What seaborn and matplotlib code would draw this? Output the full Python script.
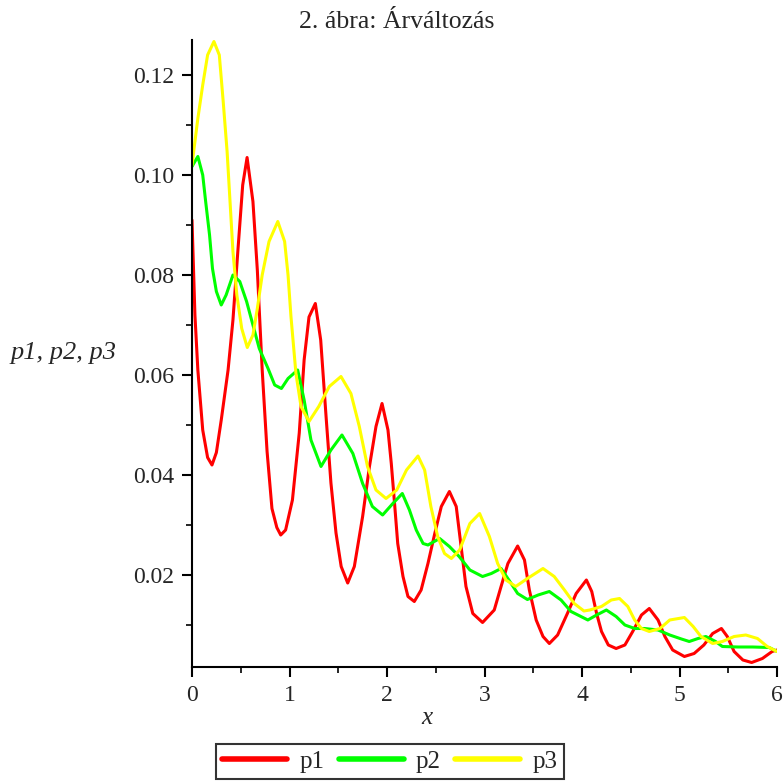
import matplotlib
matplotlib.use("Agg")
import matplotlib.pyplot as plt
from matplotlib.ticker import MultipleLocator, FixedLocator
import seaborn as sns
import pandas as pd

# ---- data ----
x_p1 = [0.00, 0.03, 0.06, 0.11, 0.16, 0.205, 0.25, 0.30, 0.37, 0.42, 0.47, 0.52, 0.565, 0.625, 0.67,
        0.72, 0.77, 0.82, 0.87, 0.91, 0.96, 1.03, 1.10, 1.15, 1.20, 1.265, 1.32, 1.375, 1.425, 1.477,
        1.53, 1.597, 1.665, 1.75, 1.82, 1.887, 1.949, 2.01, 2.044, 2.08, 2.11, 2.164, 2.215, 2.28,
        2.35, 2.42, 2.49, 2.557, 2.64, 2.71, 2.76, 2.81, 2.88, 2.98, 3.10, 3.17, 3.24, 3.34, 3.41,
        3.46, 3.53, 3.60, 3.665, 3.75, 3.85, 3.94, 4.045, 4.10, 4.15, 4.20, 4.27, 4.35, 4.44, 4.52,
        4.61, 4.69, 4.78, 4.85, 4.93, 5.05, 5.15, 5.25, 5.34, 5.43, 5.49, 5.56, 5.65, 5.74, 5.85,
        5.95, 6.00]
y_p1 = [0.091, 0.072, 0.061, 0.049, 0.0435, 0.042, 0.0445, 0.051, 0.061, 0.071, 0.0847, 0.098, 0.1035,
        0.0947, 0.081, 0.061, 0.0447, 0.0333, 0.0295, 0.028, 0.029, 0.035, 0.0484, 0.063, 0.0716,
        0.0743, 0.067, 0.0517, 0.0384, 0.0284, 0.0217, 0.0184, 0.0217, 0.0317, 0.0417, 0.0497,
        0.0543, 0.049, 0.0423, 0.0337, 0.0263, 0.0197, 0.0157, 0.0147, 0.017, 0.0223, 0.0283,
        0.0337, 0.0367, 0.0337, 0.0257, 0.0177, 0.0123, 0.0105, 0.013, 0.0177, 0.0223, 0.0258,
        0.023, 0.017, 0.011, 0.0077, 0.0063, 0.008, 0.0123, 0.0163, 0.019, 0.0167, 0.0123, 0.0087,
        0.006, 0.0053, 0.006, 0.0087, 0.012, 0.0133, 0.011, 0.0077, 0.005, 0.0037, 0.0043, 0.006,
        0.0083, 0.0093, 0.0077, 0.0047, 0.003, 0.0025, 0.0033, 0.0047, 0.005]

x_p2 = [0.00, 0.06, 0.11, 0.14, 0.18, 0.21, 0.25, 0.30, 0.35, 0.42, 0.49, 0.56, 0.625, 0.69, 0.78,
        0.848, 0.917, 0.985, 1.084, 1.15, 1.22, 1.323, 1.425, 1.538, 1.65, 1.75, 1.85, 1.955, 2.06,
        2.157, 2.23, 2.30, 2.37, 2.42, 2.54, 2.64, 2.74, 2.85, 2.98, 3.07, 3.17, 3.25, 3.34, 3.44,
        3.55, 3.665, 3.785, 3.887, 4.06, 4.15, 4.25, 4.35, 4.44, 4.54, 4.64, 4.78, 4.90, 5.02, 5.10,
        5.19, 5.27, 5.37, 5.44, 5.60, 5.75, 5.92, 6.00]
y_p2 = [0.1017, 0.1037, 0.100, 0.0947, 0.088, 0.0813, 0.0767, 0.074, 0.076, 0.080, 0.0787, 0.0747,
        0.070, 0.0653, 0.0613, 0.058, 0.0573, 0.0593, 0.061, 0.055, 0.047, 0.0417, 0.045, 0.048,
        0.0443, 0.0383, 0.0337, 0.032, 0.0343, 0.0363, 0.033, 0.029, 0.0263, 0.026, 0.0273, 0.0257,
        0.0237, 0.021, 0.0197, 0.0203, 0.0213, 0.019, 0.0163, 0.0151, 0.016, 0.0167, 0.015, 0.0127,
        0.011, 0.012, 0.013, 0.0117, 0.010, 0.0093, 0.0093, 0.009, 0.008, 0.0072, 0.0067, 0.0073,
        0.0077, 0.0067, 0.0057, 0.0056, 0.0056, 0.0055, 0.0047]

x_p3 = [0.00, 0.06, 0.11, 0.16, 0.225, 0.28, 0.32, 0.36, 0.39, 0.42, 0.46, 0.51, 0.567, 0.625, 0.67,
        0.72, 0.79, 0.88, 0.95, 0.985, 1.015, 1.066, 1.118, 1.20, 1.30, 1.408, 1.528, 1.63, 1.716,
        1.80, 1.887, 1.99, 2.10, 2.20, 2.318, 2.386, 2.45, 2.52, 2.59, 2.66, 2.745, 2.85, 2.95, 3.05,
        3.135, 3.22, 3.32, 3.44, 3.60, 3.715, 3.82, 3.92, 4.02, 4.08, 4.20, 4.30, 4.385, 4.47, 4.54,
        4.61, 4.69, 4.80, 4.90, 5.05, 5.14, 5.22, 5.34, 5.44, 5.56, 5.68, 5.80, 5.90, 6.00]
y_p3 = [0.102, 0.1113, 0.118, 0.124, 0.1267, 0.124, 0.1147, 0.1047, 0.0947, 0.0847, 0.076, 0.0693,
        0.0655, 0.068, 0.0733, 0.080, 0.0867, 0.0907, 0.0867, 0.080, 0.0717, 0.0603, 0.0537, 0.0507,
        0.0537, 0.0577, 0.0597, 0.0563, 0.0497, 0.0417, 0.037, 0.0353, 0.037, 0.041, 0.0438, 0.041,
        0.0337, 0.0277, 0.0243, 0.0233, 0.025, 0.0303, 0.0323, 0.0277, 0.0223, 0.019, 0.0177,
        0.0193, 0.0213, 0.0197, 0.017, 0.0143, 0.0128, 0.013, 0.0137, 0.015, 0.0153, 0.0137, 0.011,
        0.0093, 0.0087, 0.0093, 0.011, 0.0115, 0.0097, 0.0077, 0.0063, 0.0067, 0.0077, 0.008,
        0.0073, 0.0057, 0.0047]

series_names = ["p1", "p2", "p3"]
series_colors = ["#ff0000", "#00ff00", "#ffff00"]
x_ticks = [0, 1, 2, 3, 4, 5, 6]
y_ticks = [0.02, 0.04, 0.06, 0.08, 0.10, 0.12]
title_text = "2. ábra: Árváltozás"
x_label = "x"
y_label = "p1, p2, p3"

df = pd.concat([
    pd.DataFrame({"x": x_p1, "value": y_p1, "series": "p1"}),
    pd.DataFrame({"x": x_p2, "value": y_p2, "series": "p2"}),
    pd.DataFrame({"x": x_p3, "value": y_p3, "series": "p3"}),
], ignore_index=True)

sns.set_style("ticks")
plt.rcParams["font.family"] = ["Liberation Serif", "DejaVu Serif"]

fig = plt.figure(figsize=(7.84, 7.81), dpi=100)
ax = fig.add_axes([192 / 784, 1 - 667 / 781, 585 / 784, 627 / 781])

sns.lineplot(data=df, x="x", y="value", hue="series", hue_order=series_names,
             palette=dict(zip(series_names, series_colors)), estimator=None,
             sort=True, linewidth=2.2, ax=ax, legend=False)

ax.set_xlim(0, 6)
ax.set_ylim(0.0016, 0.127)
ax.xaxis.set_major_locator(FixedLocator(x_ticks))
ax.xaxis.set_minor_locator(MultipleLocator(0.5))
ax.yaxis.set_major_locator(FixedLocator(y_ticks))
ax.yaxis.set_minor_locator(FixedLocator([0.01, 0.03, 0.05, 0.07, 0.09, 0.11]))
ax.set_xticklabels([str(t) for t in x_ticks])
ax.set_yticklabels([f"{t:.2f}" for t in y_ticks])
ax.tick_params(axis="both", which="major", length=7, width=1.5, labelsize=17, pad=6, color="black")
ax.tick_params(axis="both", which="minor", length=4, width=1.2, color="black")
for s in ["top", "right"]:
    ax.spines[s].set_visible(False)
for s in ["left", "bottom"]:
    ax.spines[s].set_linewidth(1.5)
    ax.spines[s].set_color("black")
ax.set_xlabel("")
ax.set_ylabel("")

fig.text(397 / 784, 1 - 22 / 781, title_text, ha="center", va="center", fontsize=18.5)
fig.text(427 / 784, 1 - 718 / 781, x_label, ha="center", va="center", fontsize=18, style="italic")
fig.text(64 / 784, 1 - 353 / 781, y_label, ha="center", va="center", fontsize=19, style="italic")

handles = [plt.Line2D([], [], color=c, linewidth=4) for c in series_colors]
leg = fig.legend(handles, series_names, loc="upper left", bbox_to_anchor=(216 / 784, 1 - 744 / 781),
                 ncol=3, frameon=True, fancybox=False, edgecolor="black", fontsize=18,
                 handlelength=2.6, handletextpad=0.5, columnspacing=0.55, borderpad=0.25,
                 borderaxespad=0)
leg.get_frame().set_linewidth(1.5)

fig.savefig("out.png", dpi=100)
